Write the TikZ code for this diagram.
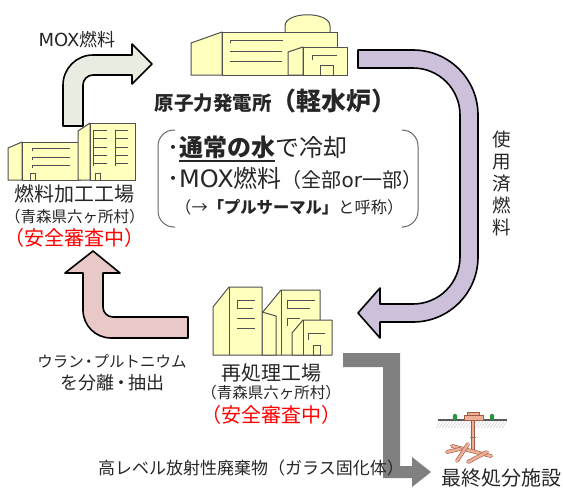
\documentclass[tikz,border=0pt]{standalone}
\usepackage{fontspec}
\setmainfont{Noto Sans CJK JP}
\newfontfamily\latinfont{DejaVu Sans}
\usetikzlibrary{positioning}

\definecolor{bldgfill}{RGB}{255,255,190}
\definecolor{bldgedge}{RGB}{80,80,80}
\definecolor{moxfill}{RGB}{233,236,224}
\definecolor{pinkfill}{RGB}{233,200,200}
\definecolor{purplefill}{RGB}{204,192,218}
\definecolor{hlwgray}{RGB}{128,128,128}
\definecolor{txt}{RGB}{38,38,38}
\definecolor{soil}{RGB}{236,176,150}
\definecolor{soiledge}{RGB}{160,90,70}
\definecolor{treegreen}{RGB}{40,150,60}

\newcommand{\sizehuge}{\fontsize{24}{28}\selectfont}
\newcommand{\sizebig}{\fontsize{20}{24}\selectfont}
\newcommand{\sizemid}{\fontsize{18}{22}\selectfont}
\newcommand{\sizelow}{\fontsize{17}{20}\selectfont}
\newcommand{\sizesmall}{\fontsize{15.5}{18}\selectfont}

\tikzset{
	blockarrow/.style={draw=black, line width=1.6pt, line join=round},
	bldg/.style={draw=bldgedge, fill=bldgfill, line width=1pt, line join=round},
	bldgin/.style={draw=bldgedge, line width=0.9pt},
	brace/.style={draw=black!60, line width=1pt, rounded corners=16pt},
	tunnel/.style={draw=soiledge, line width=0.6pt, double=soil, double distance=2.6pt, line cap=round},
}

\begin{document}
\begin{tikzpicture}[x=1pt, y=-1pt]
	\useasboundingbox (0,0) rectangle (563,488);
	\tikzstyle{every node}=[align=center, inner sep=0pt, text=txt]

	% cycle arrows
	\draw [blockarrow, fill=moxfill] (63,126) -- (63,85) arc [start angle=180, end angle=270, radius=30] -- (132,55) -- (132,44) -- (152,64) -- (132,84) -- (132,75) -- (93,75) arc [start angle=270, end angle=180, radius=10] -- (83,126) -- cycle;
	\draw [blockarrow, fill=purplefill] (358,50) -- (413,50) arc [start angle=270, end angle=360, radius=65] -- (478,257) arc [start angle=0, end angle=90, radius=65] -- (380,322) -- (380,338) -- (358,313) -- (380,288) -- (380,304) -- (413,304) arc [start angle=90, end angle=0, radius=47] -- (460,115) arc [start angle=0, end angle=-90, radius=47] -- (358,68) -- cycle;
	\draw [blockarrow, fill=pinkfill] (93,251) -- (120,273) -- (103,273) -- (103,307) arc [start angle=180, end angle=90, radius=10] -- (188,317) -- (188,338) -- (111,338) arc [start angle=90, end angle=180, radius=28] -- (83,273) -- (65,273) -- cycle;
	\fill [hlwgray] (343,353) -- (400,353) -- (400,466) -- (412,466) -- (412,457) -- (431,472) -- (412,487) -- (412,478) -- (383,478) -- (383,367) -- (343,367) -- cycle;

	% power station
	\draw [bldg] (285,33) -- (285,26) .. controls (285,11) and (330,11) .. (330,26) -- (330,33) -- cycle;
	\draw [bldg] (191,75) -- (191,43) -- (222,32) -- (222,75) -- cycle;
	\draw [bldg] (222,32) rectangle (337,75);
	\draw [bldgin] (230,43) -- (230,40) -- (283,40);
	\draw [bldgin] (230,51) -- (282,51);
	\draw [bldgin] (230,61) -- (282,61);
	\draw [bldg] (288,75) -- (288,52) -- (303,47) -- (303,75) -- cycle;
	\draw [bldg] (303,47) rectangle (347,75);
	\draw [bldgin] (312,60) -- (312,55) -- (337,55);
	\draw [bldgin] (320,65) rectangle (333,75);

	% fuel fabrication plant
	\draw [bldg] (8,180) -- (8,148) -- (22,142) -- (22,180) -- cycle;
	\draw [bldg] (22,142) rectangle (80,180);
	\foreach \y in {148,157,165}
		\draw [bldgin] (32,\y+3) -- (32,\y) -- (70,\y);
	\draw [bldgin] (30,173) rectangle (35,180);
	\draw [bldg] (78,180) -- (78,131) -- (90,123) -- (90,180) -- cycle;
	\draw [bldg] (90,123) rectangle (135,180);
	\foreach \y in {130,138,147,155,163} {
		\draw [bldgin] (93,\y) -- (107,\y);
		\draw [bldgin] (115,\y) -- (128,\y);
	}
	\draw [bldgin] (93,130) -- (93,166);
	\draw [bldgin] (115,130) -- (115,166);
	\draw [bldgin] (95,173) rectangle (100,180);

	% reprocessing plant
	\draw [bldg] (262,313) -- (281,290) -- (320,290) -- (320,355) -- (262,355) -- cycle;
	\draw [bldgin] (281,290) -- (281,355);
	\draw [bldgin] (315,300) -- (287,300) -- (287,308) -- (310,308);
	\draw [bldgin] (300,318) -- (287,318) -- (287,326);
	\draw [bldg] (262,355) -- (262,312) -- (276,316) -- (276,355) -- cycle;
	\draw [bldg] (213,355) -- (213,307) -- (229,287) -- (262,287) -- (262,355) -- cycle;
	\draw [bldgin] (229,287) -- (229,355);
	\draw [bldgin] (255,300) -- (237,300) -- (237,308) -- (253,308);
	\draw [bldgin] (237,318) -- (255,318);
	\draw [bldgin] (237,328) -- (255,328);
	\draw [bldg] (292,355) -- (292,333) -- (303,320) -- (332,320) -- (332,355) -- cycle;
	\draw [bldgin] (303,320) -- (303,355);
	\draw [bldgin] (308,340) -- (308,333) -- (325,333);
	\draw [bldgin] (313,345) rectangle (320,355);

	% final disposal site
	\foreach \x in {441,444,...,507}
		\draw [gray!45, line width=0.4pt] (\x,421) -- (\x-5,428);
	\draw [gray!70!black, line width=1.2pt] (438,420) -- (507,420);
	\draw [tunnel] (473,421) -- (473,450);
	\draw [gray, line width=0.6pt] (470,437) -- (476,437);
	\draw [tunnel] (452,446) -- (491,456);
	\draw [tunnel] (457,461) -- (468,444);
	\draw [tunnel] (468,462) -- (487,452);
	\draw [tunnel] (447,452) -- (460,449);
	\draw [draw=soiledge, fill=soil, line width=0.5pt] (464,415) rectangle (483,420);
	\draw [draw=soiledge, fill=soil, line width=0.5pt] (467,412) rectangle (479,415);
	\fill [treegreen] (455,417) ellipse [x radius=2.3, y radius=3.3];
	\fill [treegreen] (492,417) ellipse [x radius=2.3, y radius=3.3];

	% labels
	\node (moxlbl) at (77,40) {\sizemid{\latinfont MOX}燃料};
	\node (fab) at (75,194) {\sizebig 燃料加工工場};
	\node (fabloc) at (75,217) {\sizesmall （青森県六ヶ所村）};
	\node [text=red] (fabst) at (75,238) {\sizebig （安全審査中）};

	\node (plant) at (213,103) {\bfseries\fontsize{19.5}{22}\selectfont 原子力発電所};
	\node [anchor=base west] (lwr) at (plant.base east) {\bfseries\fontsize{25}{28}\selectfont （軽水炉）};

	\draw [brace] (175,130) -- (158,130) -- (158,227) -- (175,227);
	\draw [brace] (403,130) -- (418,130) -- (418,227) -- (403,227);
	\node [anchor=base west] (water) at (167,156) {\sizehuge ･\textbf{通常の水}};
	\node [anchor=base west] (cool) at (water.base east) {\sizehuge で冷却};
	\draw [txt, line width=1.3pt] ([xshift=12pt, yshift=-2.5pt]water.south west) -- ([yshift=-2.5pt]water.south east);
	\node [anchor=base west] (mox) at (167,187) {\sizehuge ･{\latinfont MOX}燃料{\fontsize{20}{22}\selectfont （全部{\latinfont or}一部）}};
	\node [anchor=base west] (pluthermal) at (175,213) {\fontsize{16.3}{20}\selectfont （→\textbf{「プルサーマル」}と呼称）};

	\node [font={\fontsize{18.5}{22}\selectfont}] (spent) at (502,183) {使\\用\\済\\燃\\料};

	\node (sep) at (112,361) {\fontsize{15.5}{18}\selectfont ウラン\kern-3pt・\kern-3ptプルトニウム};
	\node (sepb) at (112,383) {\fontsize{18}{21}\selectfont を分離\kern-2pt・\kern-2pt抽出};

	\node (rep) at (271,373) {\sizebig 再処理工場};
	\node (reploc) at (271,393) {\sizesmall （青森県六ヶ所村）};
	\node [text=red] (repst) at (271,415) {\sizebig （安全審査中）};

	\node [anchor=west] (hlw) at (98,468) {\sizelow 高レベル放射性廃棄物（ガラス固化体）};
	\node (final) at (501,478) {\sizebig 最終処分施設};
\end{tikzpicture}
\end{document}
